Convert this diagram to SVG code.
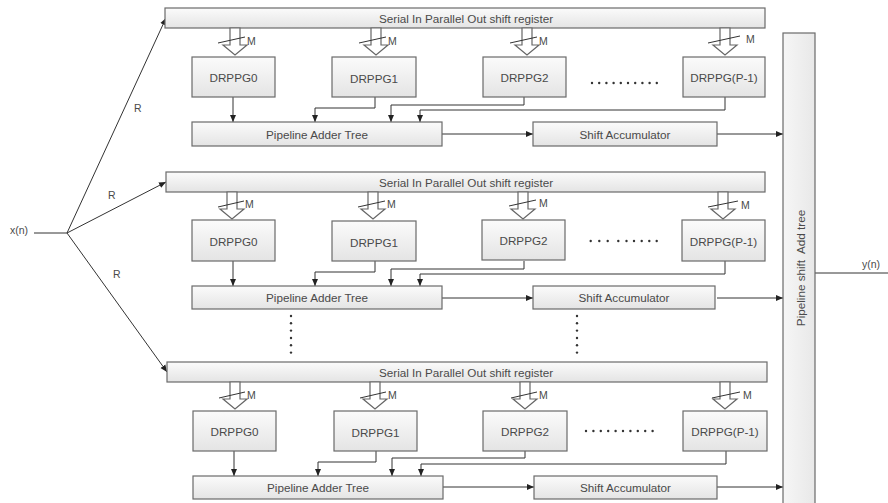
<svg xmlns="http://www.w3.org/2000/svg" width="888" height="503" viewBox="0 0 888 503">
<defs>
<linearGradient id="g" x1="0" y1="0" x2="0" y2="1">
<stop offset="0" stop-color="#fbfbfb"/>
<stop offset="1" stop-color="#e4e4e4"/>
</linearGradient>
<linearGradient id="gv" x1="0" y1="0" x2="1" y2="0">
<stop offset="0" stop-color="#f6f6f6"/>
<stop offset="1" stop-color="#e8e8e8"/>
</linearGradient>
<marker id="ah" markerWidth="8" markerHeight="8" refX="7" refY="4" orient="auto" markerUnits="userSpaceOnUse">
<path d="M0,1 L7,4 L0,7 Z" fill="#222"/>
</marker>
<path id="fat" d="M-5,0 L-5,17 L-12,17 L0,27 L12,17 L5,17 L5,0 Z"/>
</defs>
<style>
.box{fill:url(#g);stroke:#6a6a6a;stroke-width:1.2}
.vbox{fill:url(#gv);stroke:#6a6a6a;stroke-width:1.2}
.t{font-family:"Liberation Sans",Arial,sans-serif;font-size:11.7px;fill:#4a4a4a;text-anchor:middle;dominant-baseline:central}
.s{font-family:"Liberation Sans",Arial,sans-serif;font-size:10.5px;fill:#4a4a4a}
.c{fill:none;stroke:#333;stroke-width:1}
.ca{fill:none;stroke:#333;stroke-width:1;marker-end:url(#ah)}
.fa{fill:#fff;stroke:#666;stroke-width:1.2}
.sl{stroke:#333;stroke-width:1}
.d{fill:#333}
</style>
<rect width="888" height="503" fill="#fff"/>

<g id="connectors">
<line class="c" x1="34" y1="233" x2="67" y2="233"/>
<line class="ca" x1="67" y1="233" x2="166" y2="18"/>
<line class="ca" x1="67" y1="233" x2="166" y2="182"/>
<line class="ca" x1="67" y1="233" x2="167" y2="372"/>
<line class="ca" x1="233" y1="97" x2="233" y2="122"/>
<polyline class="ca" points="375,97 375,108 315,108 315,122"/>
<polyline class="ca" points="524,97 524,105 391,105 391,122"/>
<polyline class="ca" points="725,97 725,110 420,110 420,122"/>
<line class="ca" x1="442" y1="134" x2="533" y2="134"/>
<line class="ca" x1="717" y1="134" x2="783" y2="134"/>
<line class="ca" x1="233" y1="261" x2="233" y2="286"/>
<polyline class="ca" points="375,261 375,272 315,272 315,286"/>
<polyline class="ca" points="524,261 524,269 391,269 391,286"/>
<polyline class="ca" points="725,261 725,274 420,274 420,286"/>
<line class="ca" x1="442" y1="298" x2="533" y2="298"/>
<line class="ca" x1="717" y1="298" x2="783" y2="298"/>
<line class="ca" x1="234" y1="451" x2="234" y2="476"/>
<polyline class="ca" points="376,451 376,462 318,462 318,476"/>
<polyline class="ca" points="525,451 525,458 392,458 392,476"/>
<polyline class="ca" points="726,451 726,464 421,464 421,476"/>
<line class="ca" x1="443" y1="487" x2="534" y2="487"/>
<line class="ca" x1="717" y1="487" x2="783" y2="487"/>
<line class="c" x1="815" y1="273" x2="888" y2="273"/>
</g>

<g id="labels">
<text class="s" x="10" y="234">x(n)</text>
<text class="s" x="862" y="268">y(n)</text>
<text class="s" x="134" y="112">R</text>
<text class="s" x="108" y="199">R</text>
<text class="s" x="113" y="278">R</text>
</g>

<g id="sipo1"><rect class="box" x="165" y="8" width="600" height="20"/><text class="t" x="466" y="18">Serial In Parallel Out shift register</text></g>
<g id="bus1">
<use href="#fat" class="fa" x="235" y="28"/><line class="sl" x1="218" y1="43" x2="245" y2="37"/><text class="s" x="247" y="45">M</text>
<use href="#fat" class="fa" x="376" y="28"/><line class="sl" x1="359" y1="43" x2="386" y2="37"/><text class="s" x="388" y="45">M</text>
<use href="#fat" class="fa" x="527" y="28"/><line class="sl" x1="510" y1="43" x2="537" y2="37"/><text class="s" x="539" y="45">M</text>
<use href="#fat" class="fa" x="725" y="28"/><line class="sl" x1="708" y1="43" x2="740" y2="36"/><text class="s" x="746" y="43">M</text>
</g>
<g id="drppg0_1"><rect class="box" x="192" y="57" width="83" height="40"/><text class="t" x="233.5" y="77">DRPPG0</text></g>
<g id="drppg1_1"><rect class="box" x="332" y="57" width="84" height="40"/><text class="t" x="374" y="78">DRPPG1</text></g>
<g id="drppg2_1"><rect class="box" x="483" y="57" width="83" height="40"/><text class="t" x="524.5" y="77">DRPPG2</text></g>
<g id="drppgp_1"><rect class="box" x="683" y="57" width="82" height="40"/><text class="t" x="724" y="77">DRPPG(P-1)</text></g>
<g id="dots1" class="d">
<circle cx="592" cy="83" r="1.2"/><circle cx="599.2" cy="83" r="1.2"/><circle cx="606.4" cy="83" r="1.2"/><circle cx="613.6" cy="83" r="1.2"/><circle cx="620.8" cy="83" r="1.2"/><circle cx="628" cy="83" r="1.2"/><circle cx="635.2" cy="83" r="1.2"/><circle cx="642.4" cy="83" r="1.2"/><circle cx="649.6" cy="83" r="1.2"/><circle cx="656.8" cy="83" r="1.2"/>
</g>
<g id="pat1"><rect class="box" x="192" y="122" width="250" height="24"/><text class="t" x="317" y="134">Pipeline Adder Tree</text></g>
<g id="sacc1"><rect class="box" x="533" y="122" width="184" height="24"/><text class="t" x="625" y="134">Shift Accumulator</text></g>

<g id="sipo2"><rect class="box" x="166" y="172" width="599" height="20"/><text class="t" x="466" y="182">Serial In Parallel Out shift register</text></g>
<g id="bus2">
<use href="#fat" class="fa" x="232" y="192"/><line class="sl" x1="218" y1="207" x2="244" y2="201"/><text class="s" x="245" y="208">M</text>
<use href="#fat" class="fa" x="373" y="192"/><line class="sl" x1="358" y1="207" x2="385" y2="201"/><text class="s" x="387" y="208">M</text>
<use href="#fat" class="fa" x="523" y="192"/><line class="sl" x1="509" y1="206" x2="536" y2="200"/><text class="s" x="539" y="207">M</text>
<use href="#fat" class="fa" x="723" y="192"/><line class="sl" x1="708" y1="207" x2="738" y2="201"/><text class="s" x="741" y="209">M</text>
</g>
<g id="drppg0_2"><rect class="box" x="192" y="220" width="83" height="41"/><text class="t" x="233.5" y="241">DRPPG0</text></g>
<g id="drppg1_2"><rect class="box" x="332" y="221" width="84" height="40"/><text class="t" x="374" y="242">DRPPG1</text></g>
<g id="drppg2_2"><rect class="box" x="482" y="220" width="83" height="40"/><text class="t" x="523.5" y="240">DRPPG2</text></g>
<g id="drppgp_2"><rect class="box" x="682" y="220" width="83" height="41"/><text class="t" x="723.5" y="241">DRPPG(P-1)</text></g>
<g id="dots2" class="d">
<circle cx="590.7" cy="241" r="1.2"/><circle cx="599.3" cy="241" r="1.2"/><circle cx="607.7" cy="241" r="1.2"/><circle cx="618.3" cy="241" r="1.2"/><circle cx="626.5" cy="241" r="1.2"/><circle cx="634" cy="241" r="1.2"/><circle cx="641.7" cy="241" r="1.2"/><circle cx="649.3" cy="241" r="1.2"/><circle cx="656.7" cy="241" r="1.2"/>
</g>
<g id="pat2"><rect class="box" x="192" y="286" width="250" height="23"/><text class="t" x="317" y="297.5">Pipeline Adder Tree</text></g>
<g id="sacc2"><rect class="box" x="533" y="286" width="182" height="23"/><text class="t" x="624" y="297.5">Shift Accumulator</text></g>

<g id="vdots" class="d">
<circle cx="291" cy="316" r="1.2"/><circle cx="291" cy="323.3" r="1.2"/><circle cx="291" cy="330.6" r="1.2"/><circle cx="291" cy="338" r="1.2"/><circle cx="291" cy="345.3" r="1.2"/><circle cx="291" cy="352.6" r="1.2"/>
<circle cx="577" cy="316" r="1.2"/><circle cx="577" cy="323.3" r="1.2"/><circle cx="577" cy="330.6" r="1.2"/><circle cx="577" cy="338" r="1.2"/><circle cx="577" cy="345.3" r="1.2"/><circle cx="577" cy="352.6" r="1.2"/>
</g>

<g id="sipo3"><rect class="box" x="167" y="362" width="600" height="20"/><text class="t" x="466" y="372">Serial In Parallel Out shift register</text></g>
<g id="bus3">
<use href="#fat" class="fa" x="235" y="382"/><line class="sl" x1="219" y1="398" x2="245" y2="392"/><text class="s" x="247" y="399">M</text>
<use href="#fat" class="fa" x="375" y="382"/><line class="sl" x1="360" y1="398" x2="386" y2="392"/><text class="s" x="388" y="399">M</text>
<use href="#fat" class="fa" x="525" y="382"/><line class="sl" x1="511" y1="398" x2="537" y2="392"/><text class="s" x="539" y="399">M</text>
<use href="#fat" class="fa" x="725" y="382"/><line class="sl" x1="712" y1="398" x2="740" y2="392"/><text class="s" x="743" y="399">M</text>
</g>
<g id="drppg0_3"><rect class="box" x="193" y="411" width="83" height="40"/><text class="t" x="234.5" y="431">DRPPG0</text></g>
<g id="drppg1_3"><rect class="box" x="334" y="411" width="83" height="40"/><text class="t" x="375.5" y="432">DRPPG1</text></g>
<g id="drppg2_3"><rect class="box" x="483" y="411" width="84" height="40"/><text class="t" x="525" y="431">DRPPG2</text></g>
<g id="drppgp_3"><rect class="box" x="683" y="411" width="84" height="40"/><text class="t" x="725" y="431">DRPPG(P-1)</text></g>
<g id="dots3" class="d">
<circle cx="586" cy="431" r="1.2"/><circle cx="593.4" cy="431" r="1.2"/><circle cx="600.8" cy="431" r="1.2"/><circle cx="608.2" cy="431" r="1.2"/><circle cx="615.6" cy="431" r="1.2"/><circle cx="623" cy="431" r="1.2"/><circle cx="630.4" cy="431" r="1.2"/><circle cx="637.8" cy="431" r="1.2"/><circle cx="645.2" cy="431" r="1.2"/><circle cx="652.6" cy="431" r="1.2"/>
</g>
<g id="pat3"><rect class="box" x="193" y="476" width="250" height="23"/><text class="t" x="318" y="487.5">Pipeline Adder Tree</text></g>
<g id="sacc3"><rect class="box" x="534" y="476" width="183" height="23"/><text class="t" x="625.5" y="487.5">Shift Accumulator</text></g>

<g id="addtree"><rect class="vbox" x="783" y="33" width="32" height="480"/><text class="t" style="white-space:pre" xml:space="preserve" transform="translate(800,268) rotate(-90)" x="0" y="0">Pipeline shift  Add tree</text></g>
</svg>
